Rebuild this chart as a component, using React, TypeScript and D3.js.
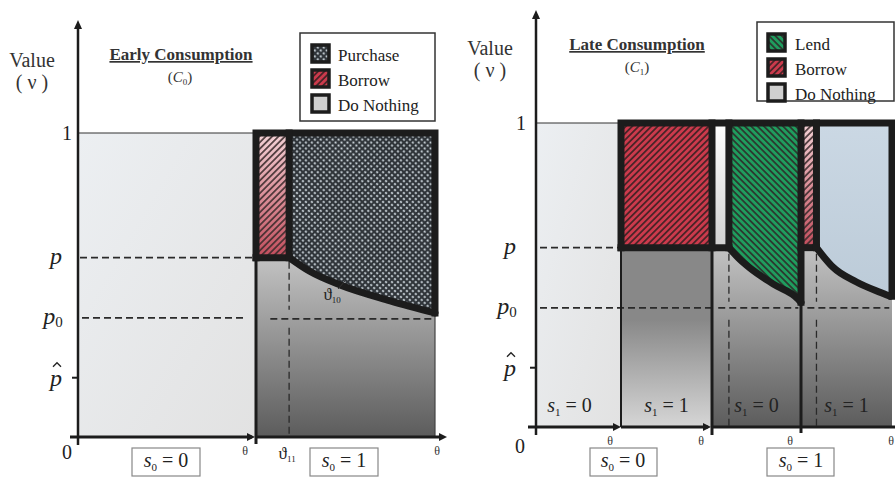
import * as d3 from "d3";

// value levels on the vertical axis
const levelOne = 1;
const levelP = 0.59;
const levelP0 = 0.392;
const levelPhat = 0.195;

// theta breakpoints (one unit per segment)
const leftBreaks = [0, 1, 2];
const rightBreaks = [0, 1, 2, 3, 4];
const theta11 = 1.185;
const thetaA = 2.19;
const thetaB = 3.17;

// boundary curves
const earlyCurve: [number, number][] = [[1.185, 0.59], [1.3, 0.545], [1.47, 0.5], [1.75, 0.448], [2.0, 0.408]];
const lateCurveA: [number, number][] = [[2.19, 0.59], [2.3, 0.555], [2.43, 0.522], [2.69, 0.47], [2.97, 0.42], [3.0, 0.41]];
const lateCurveB: [number, number][] = [[3.17, 0.59], [3.26, 0.556], [3.35, 0.526], [3.61, 0.477], [3.86, 0.444], [3.98, 0.43]];

const leftLegend = ["Purchase", "Borrow", "Do Nothing"];
const rightLegend = ["Lend", "Borrow", "Do Nothing"];
const leftSLabels = ["0", "1"];
const rightS1Labels = ["0", "1", "0", "1"];

const xL = d3.scaleLinear().domain(leftBreaks).range([78, 256, 435]);
const yL = d3.scaleLinear().domain([0, 1]).range([437, 133]);
const xR = d3.scaleLinear().domain(rightBreaks).range([536, 621, 712, 801, 892]);
const yR = d3.scaleLinear().domain([0, 1]).range([427, 123]);

const serif = "'Liberation Serif', 'Times New Roman', Times, 'DejaVu Serif', serif";
const ink = "#1c1c1c";

function curvePath(pts: [number, number][], x: any, y: any) {
  return d3.line<[number, number]>().x(d => x(d[0])).y(d => y(d[1])).curve(d3.curveMonotoneX)(pts) as string;
}
function regionUnderTop(pts: [number, number][], x: any, y: any) {
  const a = pts[0][0];
  const b = pts[pts.length - 1][0];
  return curvePath(pts, x, y) + `L${x(b)},${y(levelOne)}L${x(a)},${y(levelOne)}Z`;
}
function rectOf(x: any, y: any, x0: number, x1: number, v0: number, v1: number, props: any) {
  return <rect x={x(x0)} y={y(v1)} width={x(x1) - x(x0)} height={y(v0) - y(v1)} {...props} />;
}

function SLabel({ x, y, sub, val, size = 20 }: any) {
  return (
    <text x={x} y={y} style={{ fontFamily: serif }} fontSize={size} textAnchor="middle" fill="#222">
      <tspan fontStyle="italic">s</tspan>
      <tspan fontSize={size * 0.55} dy={size * 0.18}>{sub}</tspan>
      <tspan dy={-size * 0.18}> = {val}</tspan>
    </text>
  );
}

function PLabels({ x, y, axisX }: any) {
  const hy = y(levelPhat) - 14;
  return (
    <g style={{ fontFamily: serif }} fill="#222">
      <text x={x + 16} y={y(levelOne) + 7} fontSize={20} textAnchor="end">1</text>
      <text x={x} y={y(levelP) + 6} fontSize={24} fontStyle="italic" textAnchor="middle">p</text>
      <text x={x - 3} y={y(levelP0) + 6} fontSize={24} fontStyle="italic" textAnchor="middle">
        p<tspan fontSize={15} fontStyle="normal" dy={3}>0</tspan>
      </text>
      <text x={x} y={y(levelPhat) + 8} fontSize={24} fontStyle="italic" textAnchor="middle">p</text>
      <path d={`M${x - 3},${hy + 3}L${x + 1},${hy - 1}L${x + 5},${hy + 3}`} fill="none" stroke="#222" strokeWidth={1.3} />
      <line x1={axisX - 6} x2={axisX} y1={y(levelPhat)} y2={y(levelPhat)} stroke={ink} strokeWidth={2} />
    </g>
  );
}

function Swatch({ x, y, fill }: any) {
  return <rect x={x} y={y} width={17} height={17} fill={fill} stroke={ink} strokeWidth={3.5} />;
}

function Arrow({ x, y, dir }: any) {
  const p = dir === "right" ? `M${x},${y}L${x - 8},${y - 4}L${x - 8},${y + 4}Z` : `M${x},${y}L${x - 4},${y + 9}L${x + 4},${y + 9}Z`;
  return <path d={p} fill={ink} />;
}

export default function App() {
  const dash = { stroke: "#2a2a2a", strokeWidth: 1.6, strokeDasharray: "7,4", fill: "none" };
  const thick = { stroke: ink, strokeWidth: 7, fill: "none", strokeLinejoin: "miter" as const, strokeLinecap: "square" as const };
  const earlyEnd = earlyCurve[earlyCurve.length - 1];
  const aEnd = lateCurveA[lateCurveA.length - 1];
  const bEnd = lateCurveB[lateCurveB.length - 1];
  const txt = { fontFamily: serif };

  return (
    <svg width={895} height={477} style={{ position: "absolute", left: 0, top: 0, background: "#fff" }}>
      <defs>
        <linearGradient id="lightBg" x1="0" y1="0" x2="1" y2="1">
          <stop offset="0" stopColor="#eceff2" />
          <stop offset="1" stopColor="#e2e2e2" />
        </linearGradient>
        <linearGradient id="darkDown" x1="0" y1="0" x2="0" y2="1">
          <stop offset="0.35" stopColor="#cdcdcd" />
          <stop offset="1" stopColor="#5c5c5c" />
        </linearGradient>
        <linearGradient id="darkUp" x1="0" y1="0" x2="0" y2="1">
          <stop offset="0.4" stopColor="#888888" />
          <stop offset="1" stopColor="#d6d6d6" />
        </linearGradient>
        <linearGradient id="pinkRed" x1="0" y1="0" x2="0" y2="1">
          <stop offset="0" stopColor="#f3d2d6" />
          <stop offset="1" stopColor="#c24d5c" />
        </linearGradient>
        <linearGradient id="whiteStrip" x1="0" y1="0" x2="0" y2="1">
          <stop offset="0" stopColor="#ffffff" />
          <stop offset="1" stopColor="#d0d0d0" />
        </linearGradient>
        <linearGradient id="blueFill" x1="0" y1="0" x2="0" y2="1">
          <stop offset="0" stopColor="#cbd8e4" />
          <stop offset="1" stopColor="#bccbd8" />
        </linearGradient>
        <pattern id="hatchOver" width={4.5} height={4.5} patternUnits="userSpaceOnUse" patternTransform="rotate(45)">
          <rect x={0} y={0} width={1.8} height={4.5} fill="#3a2a2c" opacity={0.85} />
        </pattern>
        <pattern id="hatchRed" width={4.5} height={4.5} patternUnits="userSpaceOnUse" patternTransform="rotate(45)">
          <rect width={4.5} height={4.5} fill="#cc3a4c" />
          <rect x={0} y={0} width={1.8} height={4.5} fill="#4a2428" />
        </pattern>
        <pattern id="hatchGreen" width={4.5} height={4.5} patternUnits="userSpaceOnUse" patternTransform="rotate(-45)">
          <rect width={4.5} height={4.5} fill="#1f9d5e" />
          <rect x={0} y={0} width={1.8} height={4.5} fill="#2c3a30" />
        </pattern>
        <pattern id="dots" width={4.2} height={4.2} patternUnits="userSpaceOnUse" patternTransform="rotate(45)">
          <rect width={4.2} height={4.2} fill="#30353a" />
          <circle cx={2.1} cy={2.1} r={1.15} fill="#c9d2d8" />
        </pattern>
      </defs>

      {/* ---------- LEFT PANEL: early consumption ---------- */}
      <g>
        {rectOf(xL, yL, 0, 1, 0, levelOne, { fill: "url(#lightBg)" })}
        {rectOf(xL, yL, 1, 2, 0, levelOne, { fill: "url(#darkDown)" })}
        {rectOf(xL, yL, 1, theta11, levelP, levelOne, { fill: "url(#pinkRed)" })}
        {rectOf(xL, yL, 1, theta11, levelP, levelOne, { fill: "url(#hatchOver)" })}
        <path d={regionUnderTop(earlyCurve, xL, yL)} fill="url(#dots)" />

        <line x1={xL(0)} x2={xL(1)} y1={yL(levelOne)} y2={yL(levelOne)} stroke="#333" strokeWidth={1.2} />
        <line x1={xL(0) + 2} x2={xL(1)} y1={yL(levelP)} y2={yL(levelP)} {...dash} />
        <line x1={xL(0) + 4} x2={xL(0.94)} y1={yL(levelP0)} y2={yL(levelP0)} {...dash} />
        <line x1={xL(1.08)} x2={xL(1.98)} y1={yL(levelP0) + 1} y2={yL(levelP0) + 1} {...dash} />
        <line x1={xL(theta11)} x2={xL(theta11)} y1={yL(levelP) + 4} y2={yL(levelP0) - 8} {...dash} strokeWidth={1.3} />
        <line x1={xL(theta11)} x2={xL(theta11)} y1={yL(levelP0) + 10} y2={yL(0)} {...dash} strokeWidth={1.3} />
        <line x1={xL(2)} x2={xL(2)} y1={yL(earlyEnd[1])} y2={yL(0)} stroke="#444" strokeWidth={1.2} />

        {/* thick outline of the action region */}
        <path d={`M${xL(1)},${yL(levelP)}L${xL(1)},${yL(levelOne)}L${xL(2)},${yL(levelOne)}L${xL(2)},${yL(earlyEnd[1])}`} {...thick} />
        <path d={curvePath(earlyCurve, xL, yL)} {...thick} strokeLinecap="round" />
        <line x1={xL(1)} x2={xL(theta11)} y1={yL(levelP)} y2={yL(levelP)} {...thick} />
        <line x1={xL(theta11)} x2={xL(theta11)} y1={yL(levelOne)} y2={yL(levelP)} {...thick} />

        {/* axes */}
        <line x1={xL(0)} x2={xL(0)} y1={yL(0) + 8} y2={24} stroke={ink} strokeWidth={2.5} />
        <Arrow x={xL(0)} y={20} dir="up" />
        <line x1={70} x2={xL(1) - 4} y1={yL(0)} y2={yL(0)} stroke={ink} strokeWidth={3} />
        <Arrow x={xL(1) - 1} y={yL(0)} dir="right" />
        <line x1={xL(1)} x2={443} y1={yL(0)} y2={yL(0)} stroke={ink} strokeWidth={3} />
        <Arrow x={447} y={yL(0)} dir="right" />
        <line x1={xL(1)} x2={xL(1)} y1={yL(levelP)} y2={yL(0) + 7} stroke={ink} strokeWidth={3} />

        <PLabels x={56} y={yL} axisX={xL(0)} />
        <text x={67} y={459} style={txt} fontSize={20} textAnchor="middle" fill="#222">0</text>
        <text x={xL(1) - 11} y={455} style={txt} fontSize={12} textAnchor="middle" fill="#333">θ</text>
        <text x={xL(2) + 2} y={455} style={txt} fontSize={12} textAnchor="middle" fill="#333">θ</text>
        <text x={xL(theta11) - 2} y={459} style={txt} fontSize={17} textAnchor="middle" fill="#222">
          ϑ<tspan fontSize={9} dy={3}>11</tspan>
        </text>
        <text x={xL(1.47) - 8} y={300} style={txt} fontSize={17} textAnchor="middle" fill="#222">
          ϑ<tspan fontSize={9} dy={3}>10</tspan>
        </text>
        <line x1={338} x2={345} y1={289} y2={281} stroke="#333" strokeWidth={1} />

        {leftSLabels.map((s, i) => (
          <g key={i}>
            <rect x={[132, 310][i]} y={448} width={68} height={28} fill="#fff" stroke="#888" strokeWidth={1.2} />
            <SLabel x={[166, 344][i]} y={467} sub="0" val={s} />
          </g>
        ))}

        <text x={32} y={67} style={txt} fontSize={20} textAnchor="middle" fill="#333">Value</text>
        <text x={32} y={89} style={txt} fontSize={20} textAnchor="middle" fill="#333">( ν )</text>
        <text x={181} y={60} style={txt} fontSize={17} fontWeight="bold" textAnchor="middle" fill="#333" textDecoration="underline">Early Consumption</text>
        <text x={180} y={82} style={txt} fontSize={15} textAnchor="middle" fill="#333">
          (<tspan fontStyle="italic">C</tspan><tspan fontSize={9} dy={3}>0</tspan><tspan dy={-3}>)</tspan>
        </text>

        <rect x={300} y={33} width={135} height={88} fill="#fff" stroke="#333" strokeWidth={1.5} />
        {leftLegend.map((name, i) => (
          <g key={name}>
            <Swatch x={312} y={45 + i * 25} fill={["url(#dots)", "url(#hatchRed)", "#cfcfcf"][i]} />
            <text x={338} y={61 + i * 25} style={txt} fontSize={17} fill="#222">{name}</text>
          </g>
        ))}
      </g>

      {/* ---------- RIGHT PANEL: late consumption ---------- */}
      <g>
        {rectOf(xR, yR, 0, 1, 0, levelOne, { fill: "url(#lightBg)" })}
        {rectOf(xR, yR, 1, 2, 0, levelP, { fill: "url(#darkUp)" })}
        {rectOf(xR, yR, 2, 3, 0, levelOne, { fill: "url(#darkDown)" })}
        {rectOf(xR, yR, 3, 4, 0, levelOne, { fill: "url(#darkDown)" })}
        {rectOf(xR, yR, 1, 2, levelP, levelOne, { fill: "url(#hatchRed)" })}
        {rectOf(xR, yR, 2, thetaA, levelP, levelOne, { fill: "url(#whiteStrip)" })}
        <path d={regionUnderTop(lateCurveA, xR, yR)} fill="url(#hatchGreen)" />
        {rectOf(xR, yR, 3, thetaB, levelP, levelOne, { fill: "url(#pinkRed)" })}
        {rectOf(xR, yR, 3, thetaB, levelP, levelOne, { fill: "url(#hatchOver)" })}
        <path d={regionUnderTop(lateCurveB, xR, yR)} fill="url(#blueFill)" />

        <line x1={xR(0)} x2={xR(1)} y1={yR(levelOne)} y2={yR(levelOne)} stroke="#333" strokeWidth={1.2} />
        <line x1={xR(0) + 4} x2={xR(1)} y1={yR(levelP)} y2={yR(levelP)} {...dash} />
        <line x1={xR(0) + 4} x2={xR(2)} y1={yR(levelP0)} y2={yR(levelP0)} {...dash} />
        <line x1={xR(2.07)} x2={xR(2.97)} y1={yR(levelP0)} y2={yR(levelP0)} {...dash} />
        <line x1={xR(3.07)} x2={xR(3.97)} y1={yR(levelP0)} y2={yR(levelP0)} {...dash} />
        {[thetaA, thetaB].map(t => (
          <g key={t}>
            <line x1={xR(t)} x2={xR(t)} y1={yR(levelP) + 6} y2={yR(levelP0) - 6} {...dash} strokeWidth={1.3} />
            <line x1={xR(t)} x2={xR(t)} y1={yR(levelP0) + 12} y2={yR(0)} {...dash} strokeWidth={1.3} />
          </g>
        ))}
        <line x1={xR(1)} x2={xR(1)} y1={yR(levelP)} y2={yR(0)} stroke={ink} strokeWidth={2} />
        <line x1={xR(2)} x2={xR(2)} y1={yR(levelP)} y2={yR(0) + 8} stroke={ink} strokeWidth={3} />
        <line x1={xR(3)} x2={xR(3)} y1={yR(aEnd[1])} y2={yR(0) + 6} stroke={ink} strokeWidth={3} />

        <path d={`M${xR(1)},${yR(levelP)}L${xR(1)},${yR(levelOne)}L${xR(4)},${yR(levelOne)}L${xR(4)},${yR(bEnd[1])}`} {...thick} />
        <path d={curvePath(lateCurveA, xR, yR)} {...thick} strokeLinecap="round" />
        <path d={curvePath(lateCurveB, xR, yR)} {...thick} strokeLinecap="round" />
        <line x1={xR(1)} x2={xR(thetaA)} y1={yR(levelP)} y2={yR(levelP)} {...thick} />
        <line x1={xR(3)} x2={xR(thetaB)} y1={yR(levelP)} y2={yR(levelP)} {...thick} />
        <line x1={xR(2)} x2={xR(2)} y1={yR(levelOne)} y2={yR(levelP)} {...thick} />
        <line x1={xR(thetaA)} x2={xR(thetaA)} y1={yR(levelOne)} y2={yR(levelP)} {...thick} />
        <line x1={xR(3)} x2={xR(3)} y1={yR(levelOne)} y2={yR(aEnd[1])} {...thick} />
        <line x1={xR(thetaB)} x2={xR(thetaB)} y1={yR(levelOne)} y2={yR(levelP)} {...thick} />

        <line x1={xR(0)} x2={xR(0)} y1={yR(0) + 8} y2={14} stroke={ink} strokeWidth={2.5} />
        <Arrow x={xR(0)} y={10} dir="up" />
        <line x1={528} x2={xR(1) - 4} y1={yR(0)} y2={yR(0)} stroke={ink} strokeWidth={3} />
        <Arrow x={xR(1)} y={yR(0)} dir="right" />
        <line x1={xR(1)} x2={xR(2) - 4} y1={yR(0)} y2={yR(0)} stroke={ink} strokeWidth={3} />
        <Arrow x={xR(2) - 1} y={yR(0)} dir="right" />
        <line x1={xR(2)} x2={895} y1={yR(0)} y2={yR(0)} stroke={ink} strokeWidth={3} />

        <PLabels x={510} y={yR} axisX={xR(0)} />
        <text x={520} y={453} style={txt} fontSize={20} textAnchor="middle" fill="#222">0</text>
        {rightBreaks.slice(1).map(b => (
          <text key={b} x={xR(b) - 11 + (b === 4 ? 10 : 0)} y={445} style={txt} fontSize={12} textAnchor="middle" fill="#333">θ</text>
        ))}
        {rightS1Labels.map((s, i) => (
          <SLabel key={i} x={(xR(i) + xR(i + 1)) / 2 - (i === 0 ? 9 : 0)} y={412} sub="1" val={s} size={20} />
        ))}
        {["0", "1"].map((s, i) => (
          <g key={i}>
            <rect x={[590, 767][i]} y={448} width={67} height={28} fill="#fff" stroke="#888" strokeWidth={1.2} />
            <SLabel x={[623, 801][i]} y={467} sub="0" val={s} />
          </g>
        ))}

        <text x={490} y={55} style={txt} fontSize={20} textAnchor="middle" fill="#333">Value</text>
        <text x={490} y={77} style={txt} fontSize={20} textAnchor="middle" fill="#333">( ν )</text>
        <text x={637} y={50} style={txt} fontSize={17} fontWeight="bold" textAnchor="middle" fill="#333" textDecoration="underline">Late Consumption</text>
        <text x={637} y={72} style={txt} fontSize={15} textAnchor="middle" fill="#333">
          (<tspan fontStyle="italic">C</tspan><tspan fontSize={9} dy={3}>1</tspan><tspan dy={-3}>)</tspan>
        </text>

        <rect x={757} y={22} width={137} height={79} fill="#fff" stroke="#333" strokeWidth={1.5} />
        {rightLegend.map((name, i) => (
          <g key={name}>
            <Swatch x={768} y={34 + i * 25} fill={["url(#hatchGreen)", "url(#hatchRed)", "#cfcfcf"][i]} />
            <text x={795} y={50 + i * 25} style={txt} fontSize={17} fill="#222">{name}</text>
          </g>
        ))}
      </g>
    </svg>
  );
}
